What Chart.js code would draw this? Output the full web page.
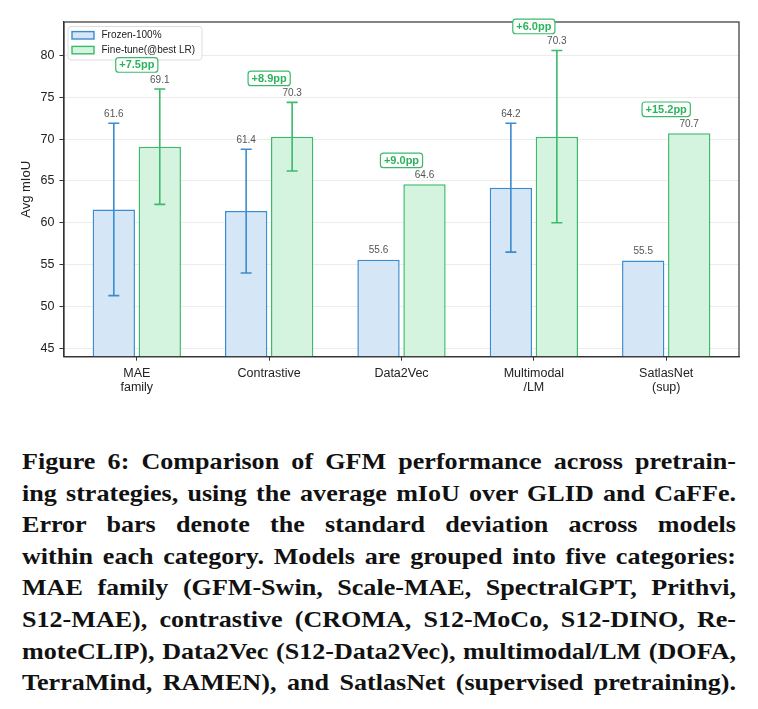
<!DOCTYPE html>
<html>
<head>
<meta charset="utf-8">
<script src="https://cdn.jsdelivr.net/npm/chart.js@4.4.1/dist/chart.umd.min.js"></script>
<style>
  html, body { margin: 0; padding: 0; background: #fff; }
  body { width: 758px; height: 709px; position: relative; overflow: hidden; }
  #wrap { position: absolute; left: 0; top: 0; width: 758px; height: 400px; }
  .caption {
    position: absolute; left: 22px; top: 446px; width: 714px;
    font-family: "Liberation Serif", "DejaVu Serif", serif; font-weight: bold;
    font-size: 24px; line-height: 31.6px; color: #111;
  }
  .caption div { text-align: justify; text-align-last: justify; transform-origin: 0 0; }
  .caption span { white-space: nowrap; }
</style>
</head>
<body>
<div id="wrap"><canvas id="chart" width="758" height="400"></canvas></div>
<div class="caption" id="caption">
  <div>Figure 6: Comparison of GFM performance across pretrain-</div>
  <div>ing strategies, using the average mIoU over GLID and CaFFe.</div>
  <div>Error bars denote the standard deviation across models</div>
  <div>within each category. Models are grouped into five categories:</div>
  <div>MAE family (GFM-Swin, Scale-MAE, SpectralGPT, Prithvi,</div>
  <div>S12-MAE), contrastive (CROMA, S12-MoCo, S12-DINO, Re-</div>
  <div>moteCLIP), Data2Vec (S12-Data2Vec), multimodal/LM (DOFA,</div>
  <div>TerraMind, RAMEN), and SatlasNet (supervised pretraining).</div>
</div>
<script>
// ─── Data ───
const categories = [['MAE', 'family'], ['Contrastive'], ['Data2Vec'], ['Multimodal', '/LM'], ['SatlasNet', '(sup)']];
const frozen = [61.6, 61.4, 55.6, 64.2, 55.5];
const frozenStd = [10.3, 7.4, null, 7.7, null];
const finetune = [69.1, 70.3, 64.6, 70.3, 70.7];
const finetuneStd = [6.9, 4.1, null, 10.3, null];
const gains = [7.5, 8.9, 9.0, 6.0, 15.2];
const yTicks = [45, 50, 55, 60, 65, 70, 75, 80];

const BLUE = '#3b8bd0', BLUE_FILL = '#d5e7f7';
const GREEN = '#3bba6a', GREEN_FILL = '#d4f4df';
const FONT = '"Liberation Sans", Arial, sans-serif';

// ─── Caption: widen glyphs a little, like the serif in the paper ───
(function fitCaption() {
  const lines = [...document.querySelectorAll('#caption div')];
  const probe = document.createElement('span');
  document.getElementById('caption').appendChild(probe);
  let s = 1.1;
  lines.forEach(d => {
    probe.textContent = d.textContent;
    s = Math.min(s, 714 / (probe.getBoundingClientRect().width + 4));
  });
  probe.remove();
  lines.forEach(d => {
    d.style.width = (714 / s) + 'px';
    d.style.transform = `scaleX(${s})`;
  });
})();

// ─── Error bars + value labels ───
const errorBars = {
  id: 'errorBars',
  afterDatasetsDraw(chart) {
    const { ctx } = chart;
    const y = chart.scales.y;
    chart.data.datasets.forEach((ds, di) => {
      const meta = chart.getDatasetMeta(di);
      meta.data.forEach((bar, i) => {
        const v = ds.data[i].y, sd = ds.std[i];
        let top = y.getPixelForValue(v);
        ctx.save();
        if (sd) {
          const yt = y.getPixelForValue(v + sd), yb = y.getPixelForValue(v - sd);
          ctx.strokeStyle = ds.borderColor;
          ctx.lineWidth = 1.6;
          ctx.beginPath();
          ctx.moveTo(bar.x, yt); ctx.lineTo(bar.x, yb);
          ctx.moveTo(bar.x - 5.5, yt); ctx.lineTo(bar.x + 5.5, yt);
          ctx.moveTo(bar.x - 5.5, yb); ctx.lineTo(bar.x + 5.5, yb);
          ctx.stroke();
          top = yt;
        }
        ctx.fillStyle = '#555';
        ctx.font = '10px ' + FONT;
        ctx.textAlign = 'center';
        ctx.textBaseline = 'middle';
        ctx.fillText(v.toFixed(1), bar.x, top - 9);
        ctx.restore();
      });
    });
  }
};

// ─── Frame, legend, gain boxes ───
function roundRect(ctx, x, y, w, h, r) {
  ctx.beginPath();
  ctx.moveTo(x + r, y);
  ctx.arcTo(x + w, y, x + w, y + h, r);
  ctx.arcTo(x + w, y + h, x, y + h, r);
  ctx.arcTo(x, y + h, x, y, r);
  ctx.arcTo(x, y, x + w, y, r);
  ctx.closePath();
}

const decorations = {
  id: 'decorations',
  afterDraw(chart) {
    const { ctx, chartArea: a } = chart;
    const xs = chart.scales.x, ys = chart.scales.y;
    ctx.save();
    // frame
    ctx.strokeStyle = '#333';
    ctx.lineWidth = 1.2;
    ctx.strokeRect(a.left, a.top, a.right - a.left, a.bottom - a.top);

    // legend
    roundRect(ctx, 68, 26.5, 134, 33.5, 3);
    ctx.fillStyle = 'rgba(255,255,255,0.85)';
    ctx.fill();
    ctx.strokeStyle = '#dddddd';
    ctx.lineWidth = 1;
    ctx.stroke();
    ctx.font = '10px ' + FONT;
    ctx.textBaseline = 'middle';
    ctx.textAlign = 'left';
    chart.data.datasets.forEach((ds, i) => {
      const cy = 35.3 + i * 14.8;
      ctx.fillStyle = ds.backgroundColor;
      ctx.fillRect(72, cy - 3.7, 22, 7.4);
      ctx.strokeStyle = ds.borderColor;
      ctx.lineWidth = 1.4;
      ctx.strokeRect(72, cy - 3.7, 22, 7.4);
      ctx.fillStyle = '#222';
      ctx.fillText(ds.label, 101.5, cy);
    });

    // gain annotations
    ctx.font = 'bold 11px ' + FONT;
    ctx.textAlign = 'center';
    gains.forEach((g, i) => {
      const top = finetune[i] + (finetuneStd[i] || 0);
      const cx = xs.getPixelForValue(i);
      const cy = ys.getPixelForValue(top) - 24;
      const txt = '+' + g.toFixed(1) + 'pp';
      const w = ctx.measureText(txt).width + 7, h = 14.6;
      roundRect(ctx, cx - w / 2, cy - h / 2, w, h, 3);
      ctx.fillStyle = 'rgba(255,255,255,0.95)';
      ctx.fill();
      ctx.strokeStyle = GREEN;
      ctx.lineWidth = 1.2;
      ctx.stroke();
      ctx.fillStyle = '#2bb35c';
      ctx.fillText(txt, cx, cy + 0.5);
    });
    ctx.restore();
  }
};

new Chart(document.getElementById('chart'), {
  type: 'bar',
  data: {
    datasets: [
      { label: 'Frozen-100%', data: frozen.map((v, i) => ({ x: i, y: v })), std: frozenStd,
        backgroundColor: BLUE_FILL, borderColor: BLUE, borderWidth: 1.5 },
      { label: 'Fine-tune(@best LR)', data: finetune.map((v, i) => ({ x: i, y: v })), std: finetuneStd,
        backgroundColor: GREEN_FILL, borderColor: GREEN, borderWidth: 1.5 }
    ]
  },
  options: {
    responsive: false,
    animation: false,
    devicePixelRatio: 1,
    categoryPercentage: 0.695,
    barPercentage: 0.92,
    layout: { padding: { left: 0, top: 22, right: 19, bottom: 0 } },
    plugins: { legend: { display: false }, tooltip: { enabled: false } },
    scales: {
      x: {
        type: 'linear', min: -0.55, max: 4.55, offset: false,
        afterBuildTicks: s => { s.ticks = categories.map((c, i) => ({ value: i })); },
        afterFit: s => { s.height = 43.3; },
        ticks: { callback: v => categories[v], color: '#222', padding: 5, maxRotation: 0, autoSkip: false,
                 font: { family: FONT, size: 12.5, lineHeight: 1.18 } },
        grid: { offset: false, drawOnChartArea: false, tickLength: 4, tickColor: '#333' },
        border: { color: '#333', width: 1.2 }
      },
      y: {
        min: 44, max: 84,
        afterBuildTicks: s => { s.ticks = yTicks.map(v => ({ value: v })); },
        afterFit: s => { s.width = 64; },
        ticks: { color: '#222', padding: 5, font: { family: FONT, size: 12.5 } },
        grid: { color: '#ececec', tickLength: 4.5, tickColor: '#333' },
        border: { color: '#333', width: 1.2 },
        title: { display: true, text: 'Avg mIoU', color: '#222', padding: { top: 18.5, bottom: 0 },
                 font: { family: FONT, size: 13 } }
      }
    }
  },
  plugins: [errorBars, decorations]
});
</script>
</body>
</html>
